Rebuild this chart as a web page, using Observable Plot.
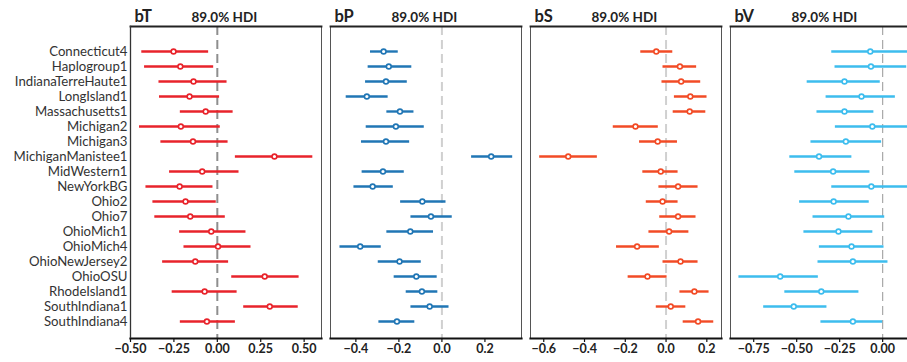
<!DOCTYPE html>
<html>
<head>
<meta charset="utf-8">
<script src="https://cdn.jsdelivr.net/npm/d3@7"></script>
<script src="https://cdn.jsdelivr.net/npm/@observablehq/plot@0.6"></script>
<style>
  html, body { margin: 0; padding: 0; background: #fff; }
  #chart { position: relative; width: 907px; height: 362px; overflow: hidden; font-family: Lato, "DejaVu Sans", sans-serif; }
</style>
</head>
<body>
<div id="chart"></div>
<script>
const names = ["Connecticut4","Haplogroup1","IndianaTerreHaute1","LongIsland1","Massachusetts1","Michigan2","Michigan3","MichiganManistee1","MidWestern1","NewYorkBG","Ohio2","Ohio7","OhioMich1","OhioMich4","OhioNewJersey2","OhioOSU","RhodeIsland1","SouthIndiana1","SouthIndiana4"];

// bT
const bT_mean = [-0.252,-0.213,-0.137,-0.160,-0.067,-0.210,-0.140,0.329,-0.087,-0.217,-0.183,-0.156,-0.035,0.004,-0.127,0.273,-0.073,0.302,-0.060];
const bT_lo   = [-0.435,-0.419,-0.336,-0.333,-0.213,-0.448,-0.325,0.104,-0.275,-0.411,-0.371,-0.360,-0.217,-0.192,-0.315,0.083,-0.260,0.152,-0.213];
const bT_hi   = [-0.050,-0.021,0.056,0.013,0.091,0.017,0.062,0.550,0.125,-0.025,-0.006,0.046,0.165,0.194,0.065,0.471,0.114,0.466,0.104];
// bP
const bP_mean = [-0.271,-0.247,-0.260,-0.349,-0.195,-0.214,-0.260,0.229,-0.274,-0.322,-0.091,-0.051,-0.147,-0.380,-0.197,-0.119,-0.093,-0.057,-0.209];
const bP_lo   = [-0.332,-0.343,-0.355,-0.445,-0.256,-0.352,-0.374,0.138,-0.371,-0.409,-0.192,-0.144,-0.256,-0.474,-0.296,-0.222,-0.166,-0.144,-0.293];
const bP_hi   = [-0.203,-0.140,-0.161,-0.250,-0.130,-0.082,-0.150,0.329,-0.175,-0.226,0.019,0.048,-0.039,-0.282,-0.096,-0.022,-0.019,0.033,-0.126];
// bS
const bS_mean = [-0.048,0.068,0.074,0.119,0.116,-0.150,-0.041,-0.480,-0.026,0.059,-0.017,0.059,0.015,-0.142,0.071,-0.091,0.139,0.023,0.157];
const bS_lo   = [-0.124,-0.015,-0.020,0.041,0.035,-0.259,-0.130,-0.620,-0.114,-0.035,-0.097,-0.031,-0.084,-0.243,-0.015,-0.186,0.068,-0.048,0.084];
const bS_hi   = [0.033,0.150,0.170,0.201,0.195,-0.038,0.056,-0.337,0.059,0.157,0.059,0.147,0.112,-0.033,0.157,0.005,0.211,0.097,0.234];
// bV
const bV_mean = [-0.072,-0.068,-0.222,-0.123,-0.222,-0.060,-0.214,-0.370,-0.288,-0.066,-0.285,-0.199,-0.257,-0.181,-0.173,-0.596,-0.357,-0.517,-0.173];
const bV_lo   = [-0.296,-0.277,-0.439,-0.329,-0.382,-0.275,-0.417,-0.540,-0.511,-0.296,-0.483,-0.405,-0.458,-0.368,-0.376,-0.836,-0.569,-0.692,-0.359];
const bV_hi   = [0.200,0.140,-0.014,0.074,-0.051,0.190,-0.006,-0.179,-0.074,0.190,-0.078,0.012,-0.057,0.008,0.031,-0.374,-0.138,-0.324,0.000];

const panels = [
  {title:"bT", mean:bT_mean, lo:bT_lo, hi:bT_hi, color:"#e8232b", domain:[-0.5,0.60], ticks:[-0.5,-0.25,0,0.25,0.5], fmt:".2f", zero:"#8e8e8e", zw:2, left:0, ml:130},
  {title:"bP", mean:bP_mean, lo:bP_lo, hi:bP_hi, color:"#2076b5", domain:[-0.518,0.37], ticks:[-0.4,-0.2,0,0.2], fmt:".1f", zero:"#d0d0d0", zw:2, left:320, ml:10},
  {title:"bS", mean:bS_mean, lo:bS_lo, hi:bS_hi, color:"#f24b26", domain:[-0.665,0.272], ticks:[-0.6,-0.4,-0.2,0,0.2], fmt:".1f", zero:"#d0d0d0", zw:2, left:520, ml:10},
  {title:"bV", mean:bV_mean, lo:bV_lo, hi:bV_hi, color:"#3dbdee", domain:[-0.885,0.226], ticks:[-0.75,-0.5,-0.25,0], fmt:".2f", zero:"#a8a8a8", zw:1.2, left:720, ml:10}
];

const chart = document.getElementById("chart");
panels.forEach((p, i) => {
  const data = names.map((n, k) => ({name:n, mean:p.mean[k], lo:p.lo[k], hi:p.hi[k]}));
  const fw = 191;
  const plot = Plot.plot({
    width: p.ml + fw + 1,
    height: 362,
    marginLeft: p.ml,
    marginRight: 1,
    marginTop: 26,
    marginBottom: 24,
    style: {fontFamily: "Lato, 'DejaVu Sans', sans-serif", fontSize: "13.2px", overflow: "visible", background: "transparent"},
    x: {domain: p.domain, ticks: p.ticks, tickFormat: d3.format(p.fmt), axis: null},
    y: {type: "point", domain: names, padding: 0, insetTop: 17.3, insetBottom: 8.7, axis: null, label: null},
    marks: [
      Plot.ruleX([0], {stroke: p.zero, strokeWidth: p.zw, strokeDasharray: "9,5"}),
      Plot.ruleY(data, {y: "name", x1: "lo", x2: "hi", stroke: p.color, strokeWidth: 2.4}),
      Plot.dot(data, {y: "name", x: "mean", r: 2.4, stroke: p.color, strokeWidth: 1.6, fill: "#fff"}),
      Plot.frame({stroke: "#555", strokeWidth: 1}),
      Plot.frame({anchor: "top", stroke: "#222", strokeWidth: 1.8}),
      Plot.frame({anchor: "bottom", stroke: "#111", strokeWidth: 2.2}),
      i === 0 ? Plot.frame({anchor: "left", stroke: "#333", strokeWidth: 1.3}) : null,
      Plot.axisX({ticks: p.ticks, tickFormat: d3.format(p.fmt), tickSize: 4, tickPadding: 2, fontSize: 12.5, fontWeight: "bold", fill: "#222", stroke: "#111", strokeWidth: 1.2, label: null}),
      i === 0 ? Plot.axisY({tickSize: 0, tickPadding: 3, fontSize: 13.2, fill: "#333", label: null}) : null,
      Plot.text([p.title], {frameAnchor: "top-left", dx: 4, dy: -10, text: d => d, fontSize: 16.5, fontWeight: "bold", fill: "#222", textAnchor: "start", lineAnchor: "middle"}),
      Plot.text(["89.0% HDI"], {frameAnchor: "top-left", dx: 61, dy: -9, text: d => d, fontSize: 13.5, fontWeight: "bold", fill: "#222", textAnchor: "start", lineAnchor: "middle"})
    ]
  });
  plot.style.position = "absolute";
  plot.style.left = p.left + "px";
  plot.style.top = "0px";
  chart.appendChild(plot);
});
</script>
</body>
</html>
